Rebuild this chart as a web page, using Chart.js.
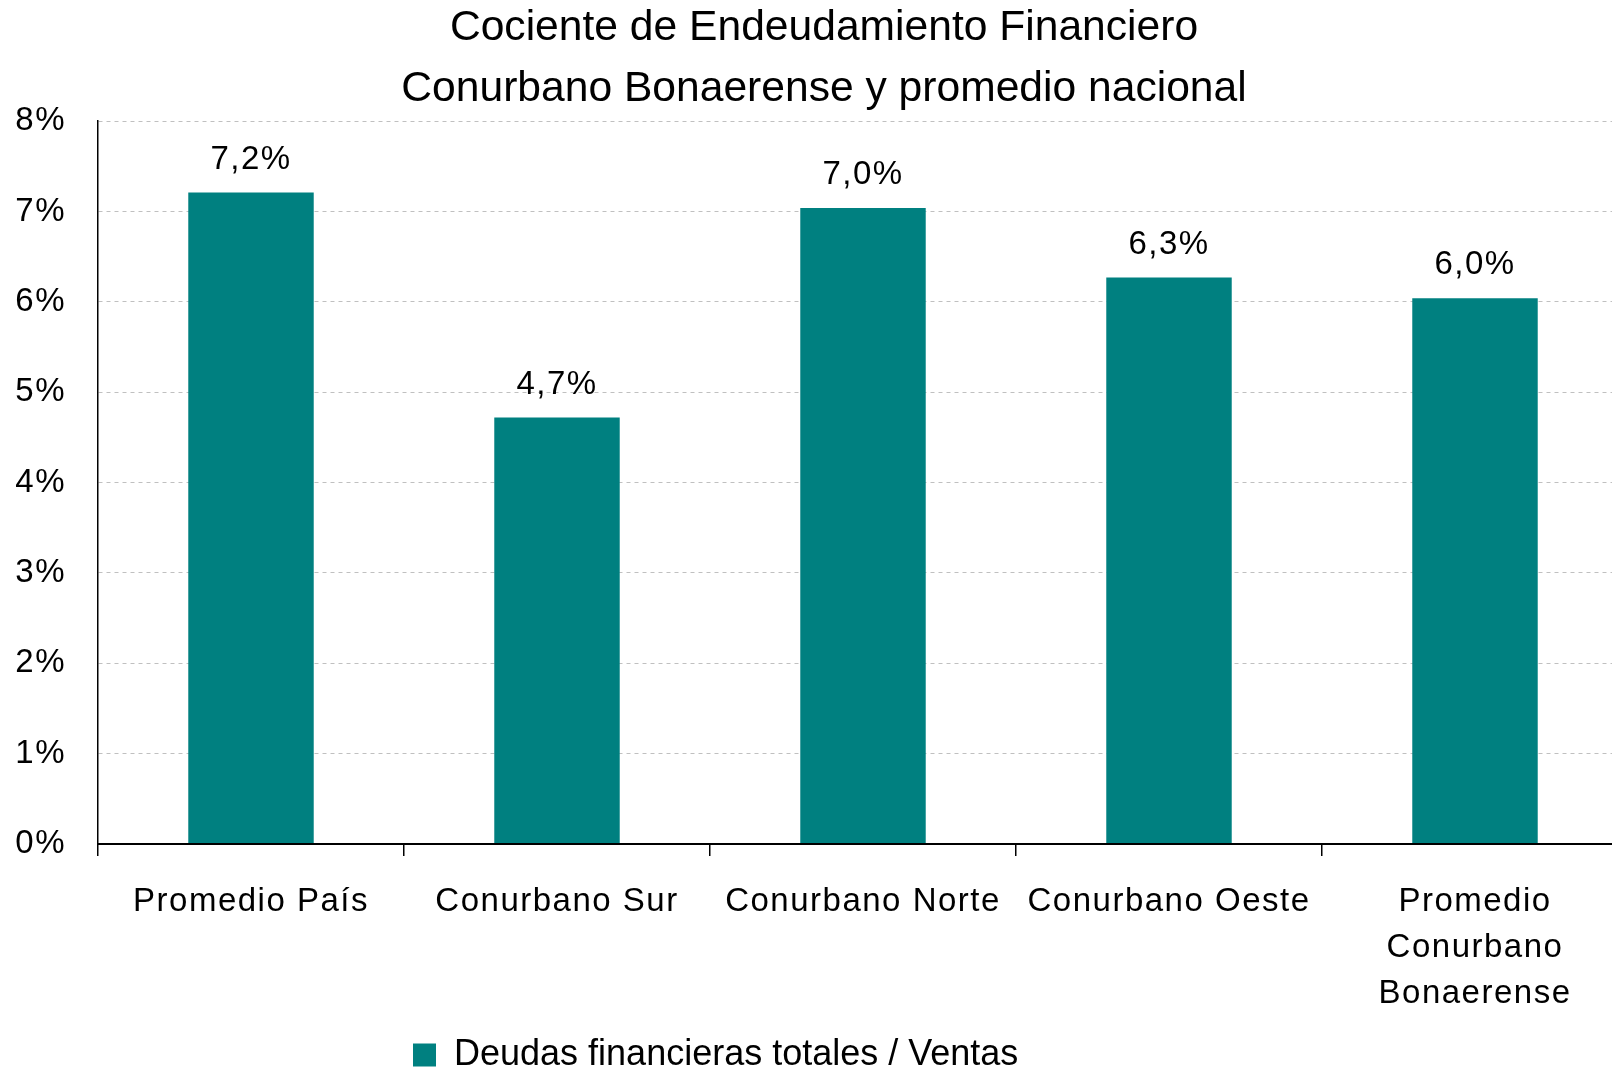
<!DOCTYPE html>
<html lang="es">
<head>
    <meta charset="UTF-8">
    <title>Cociente de Endeudamiento Financiero</title>
    <style>
        html, body {
            margin: 0;
            padding: 0;
            background-color: #fff;
            overflow: hidden;
        }

        #wrap {
            width: 1646px;
            height: 1069px;
        }
    </style>
    <script src="https://cdn.jsdelivr.net/npm/chart.js"></script>
</head>
<body>

<div id="wrap">
    <canvas id="ratioChart" width="1646" height="1069"></canvas>
</div>

<script>
    // datos
    const categories = [
        'Promedio País',
        'Conurbano Sur',
        'Conurbano Norte',
        'Conurbano Oeste',
        ['Promedio', 'Conurbano', 'Bonaerense']
    ];
    const ratioValues = [7.21, 4.72, 7.04, 6.27, 6.04];
    const seriesName = 'Deudas financieras totales / Ventas';
    const titleLines = ['Cociente de Endeudamiento Financiero', 'Conurbano Bonaerense y promedio nacional'];
    const yTicks = [0, 1, 2, 3, 4, 5, 6, 7, 8];

    const FONT = "'Liberation Sans', Arial, sans-serif";
    const TEAL = '#008080';

    Chart.defaults.color = '#000';
    Chart.defaults.font.family = FONT;

    function pct(v) {
        return v.toFixed(1).replace('.', ',') + '%';
    }

    // etiquetas sobre las barras (y espaciado de letras para los ejes)
    const barLabels = {
        id: 'barLabels',
        beforeDraw(chart) {
            chart.ctx.letterSpacing = '0px';
        },
        afterDatasetsDraw(chart) {
            const ctx = chart.ctx;
            ctx.letterSpacing = '1.5px';
            const meta = chart.getDatasetMeta(0);
            ctx.save();
            ctx.font = '33px ' + FONT;
            ctx.fillStyle = '#000';
            ctx.textAlign = 'center';
            ctx.textBaseline = 'alphabetic';
            meta.data.forEach(function (bar, i) {
                ctx.fillText(pct(ratioValues[i]), bar.x, bar.y - 24);
            });
            ctx.restore();
        },
        afterDraw(chart) {
            chart.ctx.letterSpacing = '0px';
        }
    };

    // la leyenda y el título no están centrados en el original
    const boxPlace = {
        id: 'boxPlace',
        afterLayout(chart) {
            const lg = chart.legend;
            const dx = 403 - lg.left;
            const dy = 1027 - lg.top;
            lg.left += dx;
            lg.right += dx + 400;
            lg.top += dy;
            lg.bottom += dy;

            const tb = chart.titleBlock;
            tb.left += 10;
            tb.right += 10;
        }
    };

    const ctx = document.getElementById('ratioChart').getContext('2d');
    new Chart(ctx, {
        type: 'bar',
        data: {
            labels: categories,
            datasets: [{
                label: seriesName,
                data: ratioValues,
                backgroundColor: TEAL,
                borderWidth: 0,
                categoryPercentage: 1,
                barPercentage: 0.41
            }]
        },
        options: {
            responsive: false,
            animation: false,
            layout: {
                padding: { left: 0, right: 18, top: 0, bottom: 0 }
            },
            plugins: {
                title: {
                    display: true,
                    text: titleLines,
                    color: '#000',
                    font: { size: 42.6, weight: 'normal', lineHeight: 1.4225 },
                    padding: { top: -2, bottom: 2 }
                },
                legend: {
                    position: 'bottom',
                    align: 'start',
                    labels: {
                        boxWidth: 23,
                        boxHeight: 23,
                        padding: 10,
                        color: '#000',
                        font: { size: 36 }
                    }
                },
                tooltip: { enabled: false }
            },
            scales: {
                x: {
                    grid: {
                        display: true,
                        drawOnChartArea: false,
                        drawTicks: true,
                        tickLength: 12,
                        color: '#000',
                        lineWidth: 1.5,
                        offset: true
                    },
                    border: { display: true, color: '#000', width: 2, z: 1 },
                    ticks: {
                        padding: 23,
                        maxRotation: 0,
                        autoSkip: false,
                        z: 1,
                        font: { size: 33, lineHeight: 1.39 }
                    },
                    afterFit(scale) {
                        scale.height = scale.chart.height - scale.chart.legend.height - 844;
                    }
                },
                y: {
                    min: 0,
                    max: 8,
                    afterBuildTicks(scale) {
                        scale.ticks = yTicks.map(function (v) { return { value: v }; });
                    },
                    grid: {
                        color: '#c0c0c0',
                        lineWidth: 1,
                        drawTicks: false
                    },
                    border: { display: true, color: '#000', width: 1.5, dash: [4, 4] },
                    ticks: {
                        padding: 32,
                        z: 1,
                        font: { size: 33 },
                        callback: function (v) { return v + '%'; }
                    },
                    afterFit(scale) {
                        scale.width = 98;
                    }
                }
            }
        },
        plugins: [barLabels, boxPlace]
    });
</script>

</body>
</html>
